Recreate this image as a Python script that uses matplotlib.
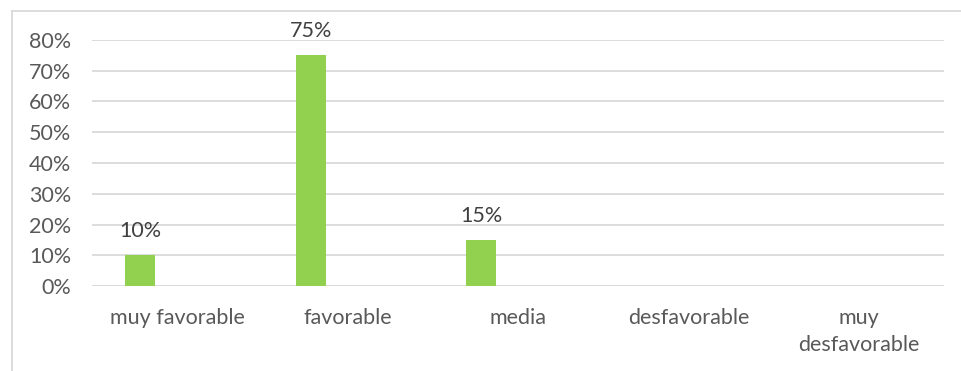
import matplotlib.pyplot as plt
import numpy as np
from matplotlib.ticker import PercentFormatter

categories = ['muy favorable', 'favorable', 'media', 'desfavorable', 'muy\ndesfavorable']
values = [0.10, 0.75, 0.15, 0.0, 0.0]
labels = ['10%', '75%', '15%', '', '']

plt.rcParams['font.family'] = ['Lato', 'DejaVu Sans']
grey = '#595959'

fig = plt.figure(figsize=(9.61, 3.71), dpi=100)
ax = fig.add_axes([0.0957, 0.2291, 0.8866, 0.6631])

x = np.arange(len(categories)) + 0.5
bars = ax.bar(x - 0.217, values, width=0.176, color='#92d050', zorder=3)

for b, lab in zip(bars, labels):
    if lab:
        ax.annotate(lab, (b.get_x() + b.get_width() / 2, b.get_height()),
                    xytext=(0, 18), textcoords='offset pixels',
                    ha='center', va='baseline', fontsize=15.5, color='#404040')

ax.set_xlim(0, len(categories))
ax.set_ylim(0, 0.8)
ax.set_yticks(np.arange(0, 0.81, 0.1))
ax.yaxis.set_major_formatter(PercentFormatter(1.0, decimals=0))
ax.set_xticks(x)
ax.set_xticklabels(categories, linespacing=1.45)
ax.tick_params(axis='y', length=0, pad=15, labelsize=15.5, labelcolor=grey)
ax.tick_params(axis='x', length=0, pad=16, labelsize=15.5, labelcolor=grey)
ax.grid(axis='y', color='#d9d9d9', linewidth=1.3, zorder=0)
for s in ax.spines.values():
    s.set_visible(False)

# chart border
fig.add_artist(plt.Line2D([11.5 / 961, 11.5 / 961], [0, 1 - 10.5 / 371],
                          transform=fig.transFigure, color='#d9d9d9', lw=1.3))
fig.add_artist(plt.Line2D([11.5 / 961, 1], [1 - 10.5 / 371, 1 - 10.5 / 371],
                          transform=fig.transFigure, color='#d9d9d9', lw=1.3))

fig.savefig('out.png', dpi=100)
